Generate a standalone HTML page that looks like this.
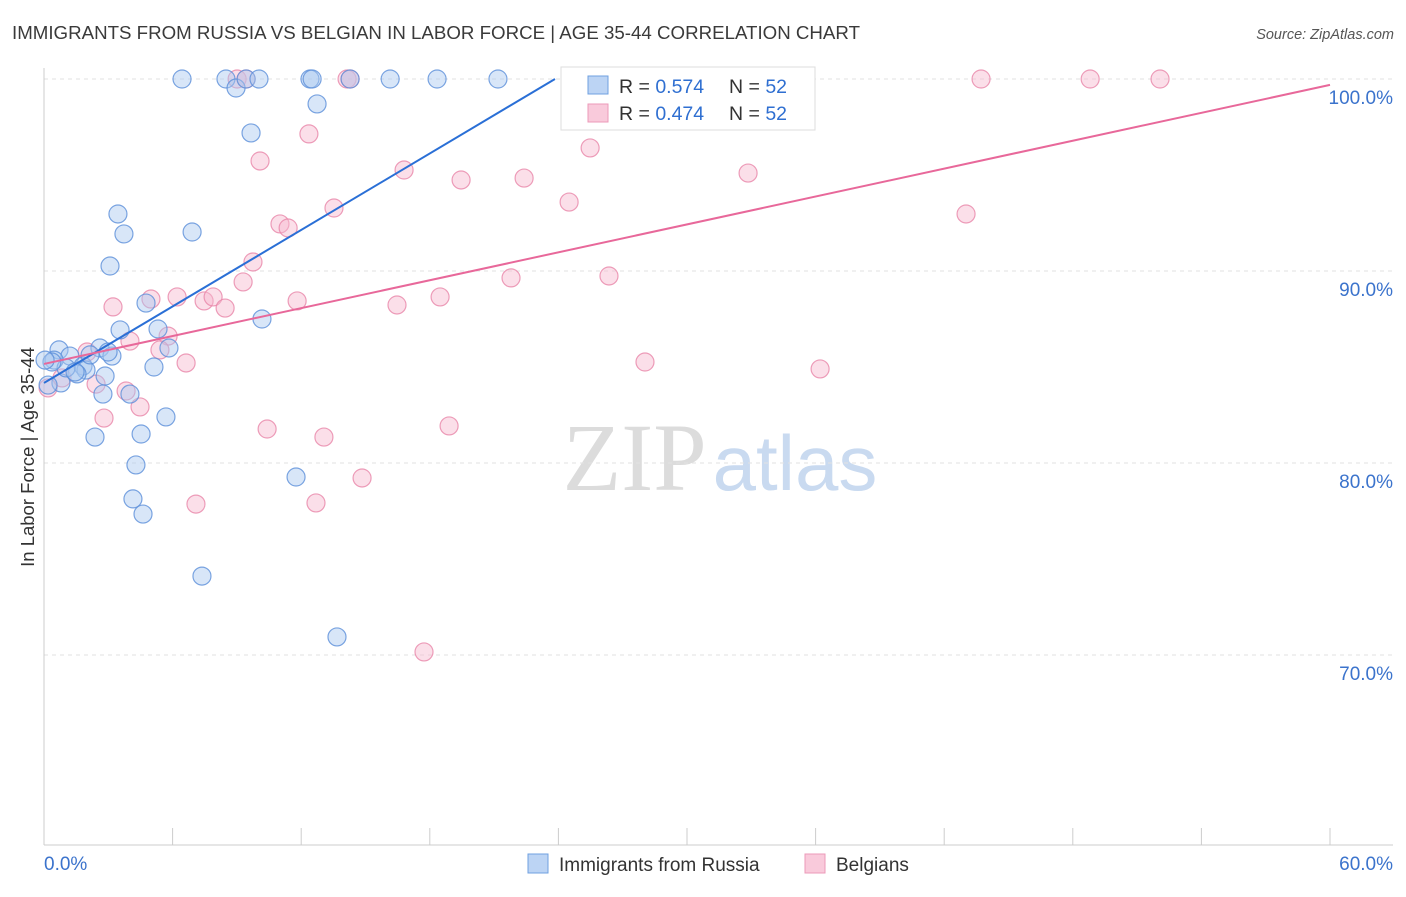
<!DOCTYPE html>
<html><head><meta charset="utf-8"><style>
body{margin:0;background:#fff;font-family:"Liberation Sans",sans-serif}
svg text{font-family:"Liberation Sans",sans-serif}
</style></head><body>
<svg id="chart" width="1406" height="892" viewBox="0 0 1406 892" xmlns="http://www.w3.org/2000/svg">
<text x="12" y="39" font-size="18.5" fill="#3a3a3a" textLength="848" lengthAdjust="spacingAndGlyphs">IMMIGRANTS FROM RUSSIA VS BELGIAN IN LABOR FORCE | AGE 35-44 CORRELATION CHART</text>
<text x="1394" y="39" font-size="14.5" fill="#555" text-anchor="end" font-style="italic">Source: ZipAtlas.com</text>
<text x="720" y="490" font-size="96" text-anchor="middle"><tspan fill="#dcdcdc" font-family="Liberation Serif">ZIP</tspan><tspan fill="#c9daf0" dx="6" font-size="78">atlas</tspan></text>
<g id="grid"></g>
<g id="axes"></g>
<g id="marks"></g>
<text transform="translate(34,457) rotate(-90)" font-size="18.5" fill="#333" text-anchor="middle">In Labor Force | Age 35-44</text>
<g>
<rect x="561" y="67" width="254" height="63" fill="#fff" stroke="#ddd"/>
<rect x="588" y="76" width="20" height="18" fill="#bcd4f4" stroke="#6fa0e0"/>
<text x="619" y="93" font-size="19.5" fill="#333">R = <tspan fill="#2f6fd1">0.574</tspan></text>
<text x="729" y="93" font-size="19.5" fill="#333">N = <tspan fill="#2f6fd1">52</tspan></text>
<rect x="588" y="104" width="20" height="18" fill="#f9cadb" stroke="#ec9ab8"/>
<text x="619" y="120" font-size="19.5" fill="#333">R = <tspan fill="#2f6fd1">0.474</tspan></text>
<text x="729" y="120" font-size="19.5" fill="#333">N = <tspan fill="#2f6fd1">52</tspan></text>
</g>
<g>
<rect x="528" y="854" width="20" height="19" fill="#bcd4f4" stroke="#6fa0e0"/>
<text x="559" y="871" font-size="19" fill="#333">Immigrants from Russia</text>
<rect x="805" y="854" width="20" height="19" fill="#f9cadb" stroke="#ec9ab8"/>
<text x="836" y="871" font-size="19" fill="#333">Belgians</text>
</g>
</svg>
<script>
const russiaX=[6.44,8.49,8.96,9.43,10.03,12.41,12.51,14.28,16.15,18.34,21.18,12.74,9.66,3.45,3.73,6.91,3.08,4.76,10.17,3.55,5.32,5.83,2.61,3.17,0.70,1.21,0.47,1.82,1.96,1.54,2.85,5.13,0.79,2.75,4.01,5.69,2.38,4.53,4.29,4.15,4.62,11.76,7.37,13.67,0.19,2.15,1.03,0.37,34.34,0.05,2.99,1.45];
const russiaY=[100,100,99.53,100,100,100,100,100,100,100,100,98.70,97.19,92.97,91.93,92.03,90.26,88.33,87.50,86.93,86.98,85.99,85.99,85.57,85.89,85.57,85.36,85.05,84.84,84.64,84.53,85.0,84.17,83.59,83.59,82.40,81.35,81.51,79.90,78.13,77.34,79.27,74.11,70.94,84.06,85.63,84.95,85.26,100,85.36,85.78,84.74];
const belgX=[9.01,9.43,14.14,14.28,26.22,43.72,48.81,52.07,12.36,10.08,25.48,16.80,19.46,22.40,32.85,24.50,43.02,13.53,11.01,11.39,9.75,9.29,21.79,26.36,4.99,6.21,7.47,7.89,8.45,11.81,16.47,18.48,3.22,5.79,4.01,5.41,6.63,28.04,36.21,2.01,2.43,3.83,4.48,2.80,10.41,13.06,18.90,14.84,7.09,12.69,17.73,0.19,0.84];
const belgY=[100,100,100,100,100,100,100,100,97.14,95.73,96.41,95.26,94.74,94.84,95.10,93.59,92.97,93.28,92.45,92.24,90.47,89.43,89.64,89.74,88.54,88.65,88.44,88.65,88.07,88.44,88.23,88.65,88.13,86.61,86.35,85.89,85.21,85.26,84.90,85.78,84.11,83.75,82.92,82.34,81.77,81.35,81.93,79.22,77.86,77.92,70.16,83.91,84.43];
const russiaTrend=[84.17,0.664]; // intercept, slope
const belgTrend=[85.16,0.2422];
const yTicks=[100,90,80,70];
const yTickLabels=["100.0%","90.0%","80.0%","70.0%"];
const xTicks=[0,6,12,18,24,30,36,42,48,54,60];

const NS="http://www.w3.org/2000/svg";
const sx=v=>44+v/60*1286;
const sy=v=>79+(100-v)*19.2;
function mk(tag,attrs,parent){const e=document.createElementNS(NS,tag);for(const k in attrs)e.setAttribute(k,attrs[k]);parent.appendChild(e);return e;}
const grid=document.getElementById('grid'),axes=document.getElementById('axes'),marks=document.getElementById('marks');
yTicks.forEach((t,i)=>{
  const l=mk('line',{x1:44,x2:1393,y1:sy(t),y2:sy(t),stroke:'#e2e2e2','stroke-dasharray':'4,4'},grid);
  
  
  const tx=mk('text',{x:1393,y:sy(t)+25,'font-size':19,fill:'#3b73cc','text-anchor':'end'},axes);
  tx.textContent=yTickLabels[i];
  
  
});
const ax=mk('line',{x1:44,x2:44,y1:68,y2:845,stroke:'#ccc'},axes);


const bx=mk('line',{x1:44,x2:1393,y1:845,y2:845,stroke:'#ccc'},axes);


xTicks.forEach(t=>{
  const l=mk('line',{x1:sx(t),x2:sx(t),y1:828,y2:845,stroke:'#ccc'},axes);
  
  
});
const x0=mk('text',{x:44,y:870,'font-size':19,fill:'#3b73cc'},axes);x0.textContent="0.0%";


const x1=mk('text',{x:1393,y:870,'font-size':19,fill:'#3b73cc','text-anchor':'end'},axes);x1.textContent="60.0%";


function dots(X,Y,fill,stroke,name){
  X.forEach((x,i)=>{
    const c=mk('circle',{cx:sx(x),cy:sy(Y[i]),r:9,fill:fill,'fill-opacity':0.45,stroke:stroke,'stroke-width':1.2,'stroke-opacity':0.8},marks);
    
    
  });
}
dots(belgX,belgY,'#f7b9cf','#e986a9','belgian-point');
dots(russiaX,russiaY,'#a9c8f0','#5b8fd9','russia-point');
const rEnd=(100-russiaTrend[0])/russiaTrend[1];
const rl=mk('line',{x1:sx(0),y1:sy(russiaTrend[0]),x2:sx(rEnd),y2:sy(100),stroke:'#2a6fd6','stroke-width':2},marks);


const bl=mk('line',{x1:sx(0),y1:sy(belgTrend[0]),x2:sx(60),y2:sy(belgTrend[0]+belgTrend[1]*60),stroke:'#e8689a','stroke-width':2},marks);


</script>
</body></html>
